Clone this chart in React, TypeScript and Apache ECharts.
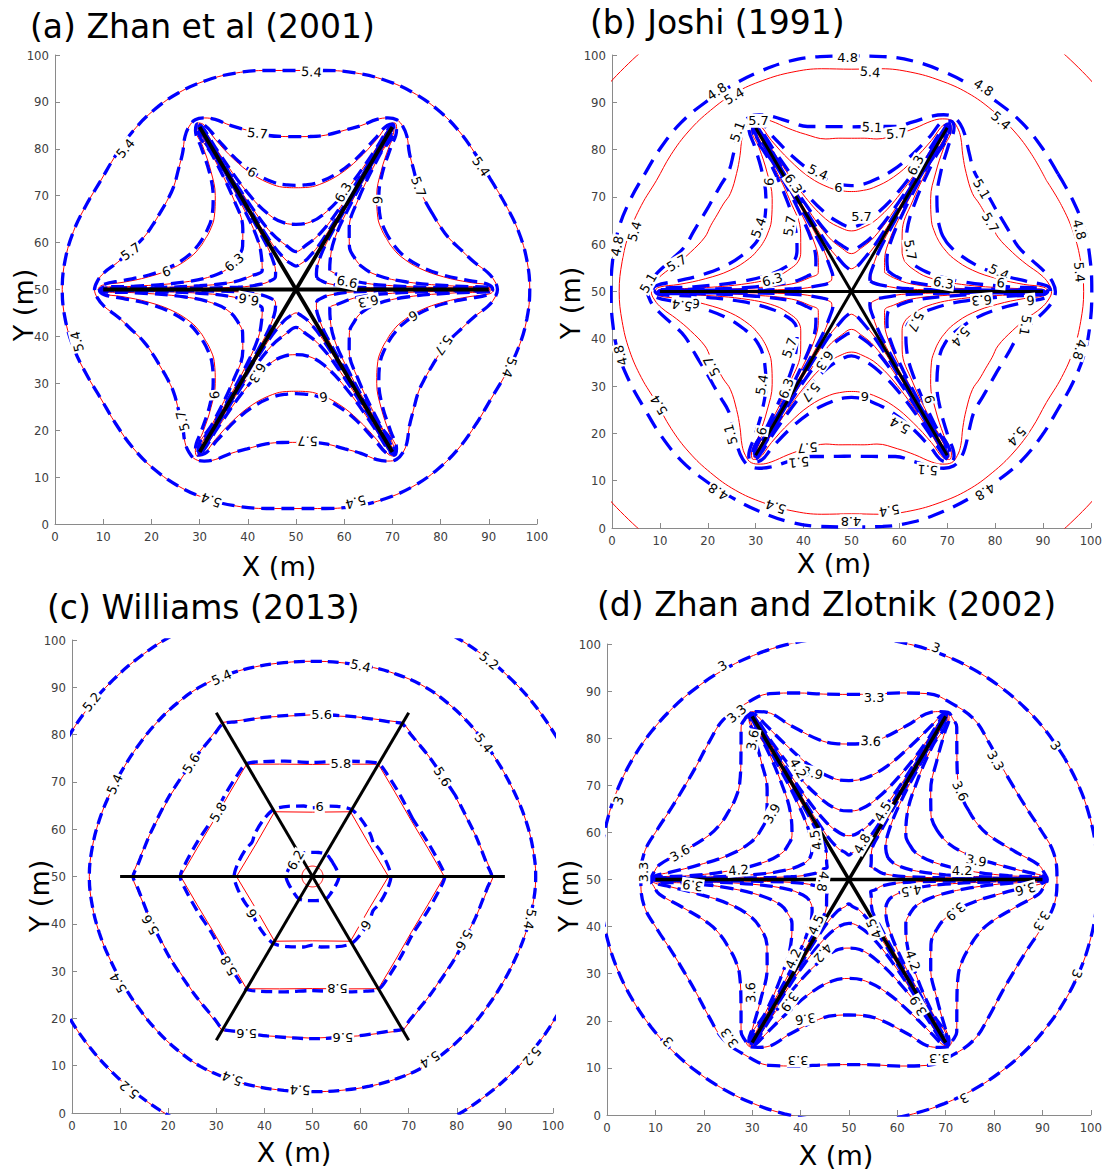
import React, { useEffect, useRef } from "react";
import * as echarts from "echarts";

// ---------- shared geometry ----------
// well (line source) end points, identical in every panel
const WELL_H = [[10, 50], [90, 50]];
const WELL_A = [[30, 15.36], [70, 84.64]];
const WELL_B = [[30, 84.64], [70, 15.36]];
const WELLS = [WELL_H, WELL_A, WELL_B];

// Contours are hexagonally symmetric about (50,50). Star-shaped ones hold the
// points read for one 30-degree wedge (offsets from the centre, from the
// horizontal-well direction to the bisector). Round ones hold the radius read
// at the wedge angles below.
const WEDGE_ANGLES = [0, 7.5, 15, 22.5, 30];

// ---------- (a) Zhan et al (2001) ----------
const A_R54 = [48.5, 48.3, 47.8, 47.1, 46.7];
const A_R57 = [[41.8, 0], [41.2, 1.8], [39.8, 3.6], [37, 5.8], [34.5, 8.2], [31.6, 11.1], [29.68, 13.84], [28.23, 16.3]];
const A_R60 = [[41, 0], [40.2, 0.9], [36.1, 1.5], [30.6, 2.7], [25.7, 4.5], [21.8, 7], [19.8, 9.2], [18.79, 10.85]];
const A_R63 = [[40.6, 0], [39.8, 0.5], [33.3, 0.7], [23, 1.6], [16.7, 3.1], [13.5, 5], [12.04, 6.95]];
const A_R66 = [[40.3, 0], [39.6, 0.3], [30, 0.4], [20, 0.8], [13, 1.6], [9, 3], [7, 4.05]];
const A_R69 = [[40.2, 0], [39.5, 0.2], [25, 0.25], [12, 0.5], [7, 1.2], [5, 2], [4.33, 2.5]];
const A_B60 = [[40.8, 0], [39.8, 1.1], [36, 1.9], [30.5, 3.1], [25.7, 5], [22, 7.5], [20.2, 9.6], [19.23, 11.1]];
const A_LABELS: [number, number, string, number][] = [
  [53.2, 96.4, "5.4", -4], [14.6, 80.1, "5.4", 50], [88.4, 76.2, "5.4", -56], [4.6, 38.9, "5.4", 104],
  [94.3, 33.4, "5.4", -110], [32.4, 5.1, "5.4", 159], [62.4, 4.7, "5.4", -165],
  [42, 83.3, "5.7", -6], [75.4, 71.9, "5.7", -70], [15.7, 58.1, "5.7", 35], [26.5, 22, "5.7", 105],
  [52.4, 17.7, "5.7", 178], [80.6, 38.1, "5.7", -125],
  [40.9, 75, "6", -30], [66.9, 69.1, "6", -92], [23.1, 53.8, "6", 20], [33.1, 27.5, "6", 95],
  [55.7, 27.1, "6", -172], [74.3, 44.4, "6", -150],
  [59.8, 70.7, "6.3", 60], [37.2, 55.8, "6.3", 40], [42, 32.2, "6.3", -120], [65, 47.5, "6.3", -168],
  [60.6, 51.6, "6.6", -12], [40.2, 47.9, "6.6", 170],
];

// ---------- (b) Joshi (1991) ----------
const B_R48 = [67, 67, 67, 67, 67];
const B_R54 = [48.5, 48.3, 48.0, 47.5, 47.0];
const B_R57 = [[41.8, 0], [41.1, 1.8], [39.6, 3.5], [36.5, 5.8], [33.6, 8.3], [30.6, 11.5], [29.4, 13.9], [28.06, 16.2]];
const B_R60 = [[41, 0], [40.2, 0.9], [36, 1.5], [30.5, 2.7], [25.3, 4.5], [21.3, 7], [19.3, 9.1], [18.3, 10.57]];
const B_R63 = [[40.6, 0], [39.8, 0.5], [33, 0.7], [23, 1.5], [16, 3], [12.5, 5], [11.1, 6.4]];
const B_R66 = [[40.3, 0], [39.6, 0.3], [30, 0.4], [20, 0.8], [12.5, 1.6], [8.8, 2.9], [6.93, 4]];
const B_R69 = [[40.2, 0], [39.5, 0.2], [25, 0.25], [12, 0.5], [6.5, 1.3], [4.7, 2], [4.16, 2.4]];
const B_B48 = [50.2, 50.3, 50.4, 50.1, 49.8];
const B_B51 = [[42.6, 0], [42, 2], [40.5, 4], [37.5, 6.8], [34.8, 9.5], [33, 12.6], [31.6, 15], [30.14, 17.4]];
const B_B54 = [[41.6, 0], [40.8, 1.2], [36.5, 2.2], [31, 3.6], [26, 5.6], [22.2, 8.1], [20.2, 10], [19.4, 11.2]];
const B_B57 = [[41, 0], [40.2, 0.6], [33, 1], [23, 2.1], [16.5, 3.8], [13.2, 5.5], [11.8, 6.8]];
const B_B60 = [[40.6, 0], [39.8, 0.4], [30, 0.5], [20, 1], [12.5, 2], [9.3, 3.2], [7.6, 4.4]];
const B_B63 = [[40.3, 0], [39.6, 0.25], [25, 0.3], [12, 0.6], [6, 1.4], [4.4, 1.9], [3.9, 2.25]];
const B_LABELS: [number, number, string, number][] = [
  [49.2, 99.4, "4.8", 0], [53.9, 96.4, "5.4", -5], [21.9, 92.3, "4.8", 34], [25.5, 91.3, "5.4", 31],
  [77.6, 93.1, "4.8", -33], [81.2, 86.1, "5.4", -41],
  [26.2, 83.8, "5.1", 70], [30.6, 86.1, "5.7", 0], [54.3, 84.7, "5.1", -3], [59.4, 83.4, "5.7", 5],
  [43, 75.2, "5.4", -25], [47.3, 72, "6", 0], [37.9, 72.8, "6.3", -55], [63.4, 76.7, "6.3", 62], [32.8, 73.2, "6", 85],
  [77.2, 71.7, "5.1", -60], [79, 64.6, "5.7", -60], [52.1, 65.8, "5.7", 0], [30.6, 63.5, "5.4", 70], [37.1, 63.9, "5.7", 80],
  [1.1, 59.6, "4.8", 79], [4.7, 62.7, "5.4", 74], [13.5, 56, "5.7", 30], [7.6, 51.8, "5.1", 60], [33.5, 52.5, "6.3", 15],
  [62.3, 58.8, "5.7", -80], [80.8, 54.1, "5.4", -25], [69.2, 51.8, "6.3", -10], [81.2, 51.8, "6", -5],
  [97.6, 63.1, "4.8", -75], [97.6, 54.1, "5.4", -85],
  [17.5, 47.5, "6", 175], [14.6, 47.1, "5.4", 170], [77.2, 48.2, "6.3", -175], [87.4, 48.2, "6", -175],
  [63.4, 43.6, "5.7", -115], [72.8, 40.4, "5.4", -130], [86.3, 42.8, "5.1", -100],
  [1.8, 36.5, "4.8", 105], [20.8, 34.2, "5.7", 118], [37.1, 38.1, "5.7", 70], [44.4, 35.4, "6.3", -125],
  [31.3, 30.3, "5.4", 80], [36.4, 29.5, "6.3", 70], [41.5, 28.7, "5.7", -130],
  [97.6, 37.7, "4.8", -105], [9.8, 26, "5.4", 121], [24.8, 19.8, "5.1", 105], [31.3, 20.5, "6", 80],
  [52.8, 27.9, "6", 180], [66.3, 27.2, "6", -75], [60.1, 21.7, "5.4", 150],
  [40.8, 17, "5.7", -175], [39, 13.9, "5.1", -175], [65.9, 12.3, "5.1", 175],
  [84.5, 19.4, "5.4", -132], [77.9, 7.7, "4.8", -147], [22.2, 7.7, "4.8", 147], [34.2, 4.5, "5.4", 161],
  [57.9, 3.7, "5.4", -170], [49.9, 1.4, "4.8", 180],
];

// ---------- (c) Williams (2013) ----------
const C_R52 = [58.7, 58.7, 58.7, 58.7, 58.7];
const C_R54 = [46.4, 46.2, 45.9, 45.6, 45.5];
const C_R56 = [[37.6, 0], [33.9, 8.7], [29.6, 17.1]];
const C_R58 = [[27.4, 0], [24.0, 5.95], [20.52, 11.85]];
const C_R60 = [[15.8, 0], [11.78, 6.8]];
const C_R62 = [2.2, 2.2, 2.2, 2.2, 2.2];
const C_B56 = [[37.3, 0], [36.3, 2.5], [33.9, 8.7], [29.7, 17.15]];
const C_B58 = [[27.5, 0], [26.5, 2.6], [24, 7.2], [20.9, 12.05]];
const C_B60 = [[16.3, 0], [15.4, 3], [13.8, 5.9], [12.56, 7.25]];
const C_B62 = [5.5, 5.4, 5.25, 5.15, 5.1];
const C_LABELS: [number, number, string, number][] = [
  [4.1, 86.9, "5.2", 51], [86.7, 95.6, "5.2", -39], [11.9, 4.9, "5.2", 140], [95.6, 12, "5.2", -130],
  [31.1, 92.1, "5.4", 24], [60, 94.5, "5.4", -13], [8.9, 69.5, "5.4", 65], [85.6, 78.2, "5.4", -52],
  [95.2, 41, "5.4", -101], [9.6, 27.5, "5.4", 119], [33.3, 7.3, "5.4", 159], [47.4, 4.9, "5.4", 177], [74.4, 11.3, "5.4", -148],
  [51.9, 84.2, "5.6", 0], [24.8, 73.9, "5.6", 58], [77, 71.1, "5.6", -58], [16.3, 39.8, "5.6", 120],
  [81.5, 36.6, "5.6", -120], [36.3, 16.8, "5.6", 180], [56.3, 16, "5.6", 180],
  [55.9, 73.9, "5.8", 0], [30.4, 63.6, "5.8", 60], [32.6, 31.1, "5.8", 120], [55.2, 26.3, "5.8", 180],
  [51.5, 64.9, "6", 0], [37.4, 42.2, "6", 120], [61.1, 39.8, "6", -120],
  [46.5, 53.5, "6.2", 60],
];

// ---------- (d) Zhan and Zlotnik (2002) ----------
const D_R30 = [51.5, 51.5, 51.5, 51.5, 51.5];
const D_R33 = [43, 42.7, 41.0, 39.7, 39.3];
const D_R36 = [[41, 0], [40.3, 1.5], [39.2, 3.1], [34.4, 5.9], [28.9, 9.4], [26.4, 12.0], [24.9, 14.4]];
const D_R39 = [[40.8, 0], [40, 0.8], [37.1, 1.5], [31, 3.1], [24.8, 5.2], [20.4, 7.8], [18.2, 10.5]];
const D_R42 = [[40.6, 0], [39.8, 0.5], [33, 0.8], [25, 1.8], [18, 3.5], [14, 5.5], [12.6, 7.3]];
const D_R45 = [[40.4, 0], [39.6, 0.3], [30, 0.5], [20, 1], [13, 2], [9.5, 3.3], [8.05, 4.65]];
const D_R48 = [[40.3, 0], [39.5, 0.2], [25, 0.3], [12, 0.6], [7, 1.3], [5.4, 2.2], [4.5, 2.6]];
const D_LABELS: [number, number, string, number][] = [
  [23.9, 95.4, "3", 30], [68, 99.2, "3", -20], [2.4, 66.8, "3", 71], [92.7, 78.4, "3", -56],
  [12.6, 15.6, "3", 133], [97.1, 30, "3", -113], [73.8, 3.6, "3", -153],
  [55.2, 88.6, "3.3", 0], [26.8, 85.2, "3.3", 40], [7.5, 51.6, "3.3", 90], [80.3, 75.2, "3.3", -60],
  [25.3, 16.4, "3.3", 125], [39.5, 11.6, "3.3", 180], [68.7, 12, "3.3", 180], [89.8, 41.2, "3.3", -120],
  [54.5, 79.4, "3.6", -3], [30.1, 79.6, "3.6", 80], [15.1, 55.6, "3.6", 30], [73, 68.8, "3.6", -65],
  [29.7, 26, "3.6", 92], [41, 20.4, "3.6", -172], [86.5, 48, "3.6", -165],
  [34.1, 64, "3.9", 60], [42.5, 72.6, "3.9", -12], [76.3, 54, "3.9", -10], [17.7, 48.8, "3.9", 172],
  [37.7, 24, "3.9", -125], [72, 43.2, "3.9", -140], [64.3, 23.2, "3.9", 120],
  [39.5, 73.6, "4.2", -60], [27.2, 52, "4.2", 5], [73.4, 52, "4.2", 0], [38.5, 33.2, "4.2", 65],
  [44.6, 34.4, "4.2", -130], [63.2, 32.8, "4.2", -70],
  [57, 64.4, "4.5", 60], [43.2, 58.4, "4.5", 100], [62.9, 47.6, "4.5", -170], [43.2, 40.4, "4.5", 65], [55.2, 39.6, "4.5", 115],
  [52.7, 57.6, "4.8", 60], [44.6, 49.6, "4.8", -100],
];

const TITLES = ["(a) Zhan et al (2001)", "(b) Joshi (1991)", "(c) Williams (2013)", "(d) Zhan and Zlotnik (2002)"];

// ---------- helpers ----------
type Src = number[] | number[][];
function wedgeOf(src: Src): number[][] {
  if (typeof src[0] === "number") {
    return (src as number[]).map((r, i) => {
      const a = (WEDGE_ANGLES[i] * Math.PI) / 180;
      return [r * Math.cos(a), r * Math.sin(a)];
    });
  }
  return src as number[][];
}
const S60 = Math.sqrt(3) / 2;
function ring(src: Src): number[][] {
  const w = wedgeOf(src);
  const refl = (p: number[]) => [p[0] * 0.5 + p[1] * S60, p[0] * S60 - p[1] * 0.5];
  const sext = w.concat(w.slice(0, -1).reverse().map(refl));
  const pts: number[][] = [];
  for (let k = 0; k < 6; k++) {
    const a = (k * Math.PI) / 3;
    const c = Math.cos(a);
    const s = Math.sin(a);
    for (let i = 0; i < sext.length - 1; i++) {
      const [x, y] = sext[i];
      pts.push([50 + x * c - y * s, 50 + x * s + y * c]);
    }
  }
  const start = w.length - 1;
  const out = pts.slice(start).concat(pts.slice(0, start));
  out.push(out[0]);
  return out;
}

type C = { w: Src; s: number };
const st = (w: Src): C => ({ w, s: 0.4 });
const PANELS: any[] = [
  {
    grid: { left: 55, top: 55, width: 482, height: 469 },
    red: [A_R54, A_R57, A_R60, A_R63, A_R66, A_R69].map(st),
    blue: [A_R54, A_R57, A_B60, A_R63, A_R66, A_R69].map(st),
    labels: A_LABELS, dash: [13, 7], wellW: 3.8,
    title: [30, 26], xName: [279, 566], yName: [23, 305],
  },
  {
    grid: { left: 612, top: 55, width: 481, height: 473 },
    red: [B_R48, B_R54, B_R57, B_R60, B_R63, B_R66, B_R69].map(st),
    blue: [B_B48, B_B51, B_B54, B_B57, B_B60, B_B63].map(st),
    labels: B_LABELS, dash: [17, 10], wellW: 3,
    title: [590, 22], xName: [834, 563], yName: [570, 303],
  },
  {
    grid: { left: 72, top: 640, width: 481, height: 473 },
    red: [
      { w: C_R52, s: 0.4 }, { w: C_R54, s: 0.4 }, { w: C_R56, s: 0 }, { w: C_R58, s: 0 },
      { w: C_R60, s: 0 }, { w: C_R62, s: 0.5 },
    ],
    blue: [
      { w: C_R52, s: 0.4 }, { w: C_R54, s: 0.4 }, { w: C_B56, s: 0.25 }, { w: C_B58, s: 0.3 },
      { w: C_B60, s: 0.3 }, { w: C_B62, s: 0.3 },
    ],
    labels: C_LABELS, dash: [11, 6], wellW: 3,
    title: [47, 607], xName: [294, 1152], yName: [39, 896],
  },
  {
    grid: { left: 607, top: 644, width: 485, height: 471 },
    red: [D_R30, D_R33, D_R36, D_R39, D_R42, D_R45, D_R48].map(st),
    blue: [D_R30, D_R33, D_R36, D_R39, D_R42, D_R45, D_R48].map(st),
    labels: D_LABELS, dash: [13, 7], wellW: 3.5,
    title: [597, 604], xName: [836, 1155], yName: [568, 896],
  },
];

const TICK_FONT = "'Liberation Sans Narrow', 'DejaVu Sans Condensed', 'Liberation Sans', sans-serif";
const TEXT_FONT = "'DejaVu Sans', Verdana, sans-serif";

function buildOption() {
  const grid: any[] = [];
  const xAxis: any[] = [];
  const yAxis: any[] = [];
  const series: any[] = [];
  const graphic: any[] = [];
  const axisCommon = {
    type: "value",
    min: 0,
    max: 100,
    interval: 10,
    axisLine: { show: true, onZero: false, lineStyle: { color: "#8a8a8a", width: 1 } },
    axisTick: { show: true, inside: true, length: 5, lineStyle: { color: "#8a8a8a" } },
    axisLabel: { fontSize: 13, fontFamily: TICK_FONT, color: "#404040", margin: 6 },
    splitLine: { show: false },
  };
  PANELS.forEach((p, i) => {
    grid.push({ ...p.grid, containLabel: false });
    xAxis.push({ ...axisCommon, gridIndex: i });
    yAxis.push({ ...axisCommon, gridIndex: i });
    p.red.forEach((c: C) =>
      series.push({
        type: "line", xAxisIndex: i, yAxisIndex: i, data: ring(c.w), smooth: c.s,
        symbol: "none", silent: true, clip: true, z: 2,
        lineStyle: { color: "#ff0000", width: 1 },
      })
    );
    p.blue.forEach((c: C) =>
      series.push({
        type: "line", xAxisIndex: i, yAxisIndex: i, data: ring(c.w), smooth: c.s,
        symbol: "none", silent: true, clip: true, z: 3,
        lineStyle: { color: "#0000ff", width: 3.3, type: p.dash },
      })
    );
    WELLS.forEach((wl) =>
      series.push({
        type: "line", xAxisIndex: i, yAxisIndex: i, data: wl, symbol: "none", silent: true, z: 4,
        lineStyle: { color: "#000", width: p.wellW },
      })
    );
    series.push({
      type: "scatter", xAxisIndex: i, yAxisIndex: i, symbolSize: 0, silent: true, z: 6,
      itemStyle: { color: "rgba(0,0,0,0)", opacity: 1 },
      label: {
        show: true, formatter: "{b}", position: "inside", color: "#000", fontSize: 13,
        fontFamily: TEXT_FONT, backgroundColor: "#ffffff", padding: [0, 1], lineHeight: 14, opacity: 1,
      },
      data: p.labels.map((l: any) => ({ value: [l[0], l[1]], name: l[2], label: { rotate: l[3] } })),
    });
    graphic.push({
      type: "text", x: p.title[0], y: p.title[1], z: 10,
      style: { text: TITLES[i], fontSize: 33, fontFamily: TEXT_FONT, fill: "#000", align: "left", verticalAlign: "middle", textAlign: "left", textVerticalAlign: "middle" },
    });
    graphic.push({
      type: "text", x: p.xName[0], y: p.xName[1], z: 10,
      style: { text: "X (m)", fontSize: 27, fontFamily: TEXT_FONT, fill: "#000", align: "center", verticalAlign: "middle", textAlign: "center", textVerticalAlign: "middle" },
    });
    graphic.push({
      type: "text", x: p.yName[0], y: p.yName[1], rotation: Math.PI / 2, z: 10,
      style: { text: "Y (m)", fontSize: 27, fontFamily: TEXT_FONT, fill: "#000", align: "center", verticalAlign: "middle", textAlign: "center", textVerticalAlign: "middle" },
    });
  });
  return { animation: false, backgroundColor: "#ffffff", grid, xAxis, yAxis, series, graphic };
}

export default function App() {
  const ref = useRef<HTMLDivElement>(null);
  useEffect(() => {
    document.body.style.margin = "0";
    if (!ref.current) return;
    const chart = echarts.init(ref.current, undefined, { renderer: "svg" });
    chart.setOption(buildOption() as any);
    return () => chart.dispose();
  }, []);
  return <div ref={ref} style={{ width: 1105, height: 1171 }} />;
}
